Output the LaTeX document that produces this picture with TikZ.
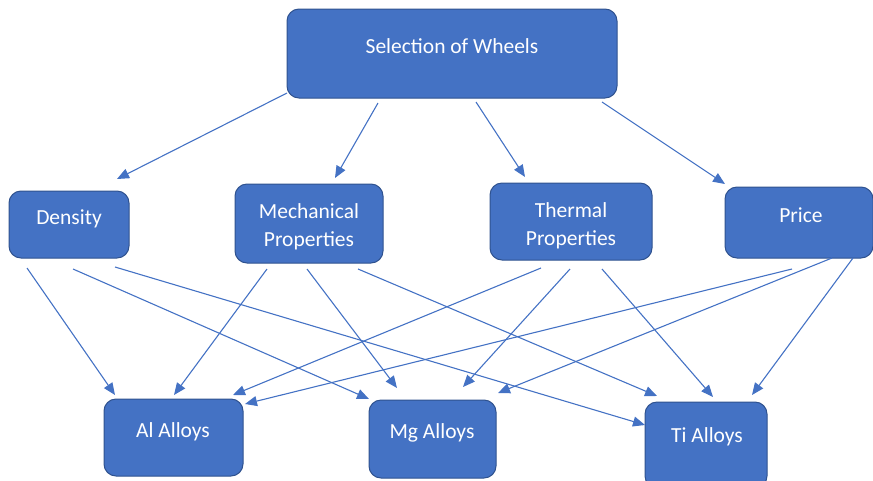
\documentclass[tikz,border=0pt]{standalone}
\usepackage{fontspec}
\setmainfont{Carlito}
\usetikzlibrary{arrows.meta}
\definecolor{boxfill}{HTML}{4472C4}
\definecolor{boxline}{HTML}{2F528F}
\definecolor{linkcol}{HTML}{4472C4}
\begin{document}
\begin{tikzpicture}[x=1pt,y=-1pt,
  box/.style={draw=boxline,line width=1pt,fill=boxfill,rounded corners=12pt,inner sep=0pt},
  lbl/.style={text=white,font=\fontsize{21.5}{28}\selectfont,align=center,anchor=base,inner sep=0pt},
  arr/.style={draw=linkcol,line width=1.1pt,-{Triangle[length=12pt,width=10pt]}}]
\useasboundingbox (0,0) rectangle (873,480);

% boxes
\node[box,minimum width=330pt,minimum height=89pt] (top) at (452,53.5) {};
\node[box,minimum width=120pt,minimum height=67pt] (dens) at (69,224.5) {};
\node[box,minimum width=148pt,minimum height=79pt] (mech) at (309,223.5) {};
\node[box,minimum width=162pt,minimum height=77pt] (therm) at (571,221.5) {};
\node[box,minimum width=148pt,minimum height=71pt] (price) at (799,222.5) {};
\node[box,minimum width=139pt,minimum height=77pt] (al) at (173.5,437.5) {};
\node[box,minimum width=127pt,minimum height=78pt] (mg) at (432.5,439) {};
\node[box,minimum width=122pt,minimum height=86pt] (ti) at (706,445) {};

% labels (base anchor sits on the last line)
\node[lbl] (topt) at (452,53) {Selection of Wheels};
\node[lbl] (denst) at (69,224) {Density};
\node[lbl] (mecht) at (309,246) {Mechanical\\Properties};
\node[lbl] (thermt) at (571,245) {Thermal\\Properties};
\node[lbl] (pricet) at (801,222) {Price};
\node[lbl] (alt) at (173,437) {Al Alloys};
\node[lbl] (mgt) at (432,438) {Mg Alloys};
\node[lbl] (tit) at (707,442) {Ti Alloys};

% selection to criteria
\draw[arr] ([shift={(-165,39.5)}]top.center) -- ([shift={(48,-45.5)}]dens.center);
\draw[arr] ([shift={(-74,49.5)}]top.center) -- ([shift={(26,-45.5)}]mech.center);
\draw[arr] ([shift={(24,48.5)}]top.center) -- ([shift={(-46,-44.5)}]therm.center);
\draw[arr] ([shift={(150,48.5)}]top.center) -- ([shift={(-74,-38.5)}]price.center);

% density to alloys
\draw[arr] ([shift={(-42,43.5)}]dens.center) -- ([shift={(-58.5,-42.5)}]al.center);
\draw[arr] ([shift={(4,44.5)}]dens.center) -- ([shift={(-63.5,-40)}]mg.center);
\draw[arr] ([shift={(46,42.5)}]dens.center) -- ([shift={(-61,-20)}]ti.center);

% mechanical properties to alloys
\draw[arr] ([shift={(-42,45.5)}]mech.center) -- ([shift={(0.5,-42.5)}]al.center);
\draw[arr] ([shift={(-2,45.5)}]mech.center) -- ([shift={(-35.5,-51)}]mg.center);
\draw[arr] ([shift={(49,45.5)}]mech.center) -- ([shift={(-49,-49)}]ti.center);

% thermal properties to alloys
\draw[arr] ([shift={(-30,46.5)}]therm.center) -- ([shift={(59.5,-42.5)}]al.center);
\draw[arr] ([shift={(-1,47.5)}]therm.center) -- ([shift={(30.5,-52)}]mg.center);
\draw[arr] ([shift={(31,47.5)}]therm.center) -- ([shift={(7,-48)}]ti.center);

% price to alloys
\draw[arr] ([shift={(-7,46.5)}]price.center) -- ([shift={(71.5,-33.5)}]al.center);
\draw[arr] ([shift={(33,35.5)}]price.center) -- ([shift={(65.5,-46)}]mg.center);
\draw[arr] ([shift={(54,35.5)}]price.center) -- ([shift={(46,-50)}]ti.center);
\end{tikzpicture}
\end{document}
